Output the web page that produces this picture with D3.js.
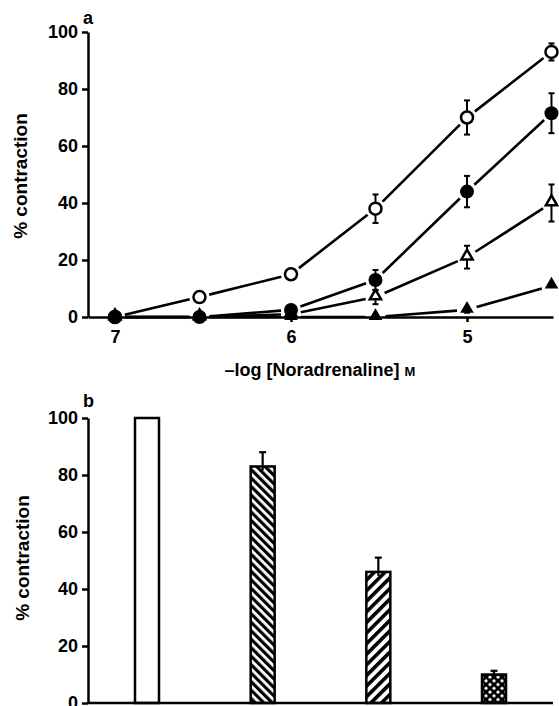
<!DOCTYPE html>
<html>
<head>
<meta charset="utf-8">
<script src="https://cdn.jsdelivr.net/npm/d3@7"></script>
<style>
  body { margin: 0; background: #fff; }
  svg { display: block; font-family: "Liberation Sans", Arial, sans-serif; font-weight: bold; }
</style>
</head>
<body>
<svg id="chart" width="559" height="706"></svg>
<script>
// panel a: concentration-response curves
const logConc = [7, 6.52, 6, 5.52, 5, 4.52];
const openCircle = [0, 7, 15, 38, 70, 93];
const openCircleErr = [0, 0, 0, 5, 6, 3];
const filledCircle = [0, 0, 2.5, 13, 44, 71.5];
const filledCircleErr = [0, 0, 0, 3.5, 5.5, 7];
const openTriangle = [0, 0, 1, 7, 21, 40];
const openTriangleErr = [0, 0, 0, 2.5, 4, 6.5];
const filledTriangle = [0, 0, 0, 0, 2.5, 11];
const filledTriangleErr = [0, 0, 0, 0, 1, 0];
const xTicks = [7, 6, 5];
const yTicks = [0, 20, 40, 60, 80, 100];

// panel b: bars
const barGroups = ["control", "hatchA", "hatchB", "dotted"];
const barValues = [100, 83, 46, 10];
const barErr = [0, 5, 5, 1.3];

const svg = d3.select("#chart");

// fill patterns for the bars
const defs = svg.append("defs");
const pa = defs.append("pattern").attr("id", "hatchA").attr("patternUnits", "userSpaceOnUse")
  .attr("width", 6).attr("height", 6).attr("patternTransform", "rotate(-45)");
pa.append("rect").attr("width", 6).attr("height", 6).attr("fill", "#fff");
pa.append("rect").attr("width", 3.2).attr("height", 6).attr("fill", "#000");
const pb = defs.append("pattern").attr("id", "hatchB").attr("patternUnits", "userSpaceOnUse")
  .attr("width", 7.5).attr("height", 7.5).attr("patternTransform", "rotate(45)");
pb.append("rect").attr("width", 7.5).attr("height", 7.5).attr("fill", "#fff");
pb.append("rect").attr("width", 3.6).attr("height", 7.5).attr("fill", "#000");
const pd = defs.append("pattern").attr("id", "dotted").attr("patternUnits", "userSpaceOnUse")
  .attr("width", 8).attr("height", 7.5);
pd.append("rect").attr("width", 8).attr("height", 7.5).attr("fill", "#000");
pd.append("circle").attr("cx", 2).attr("cy", 2).attr("r", 1.6).attr("fill", "#fff");
pd.append("circle").attr("cx", 6).attr("cy", 5.75).attr("r", 1.6).attr("fill", "#fff");

function styleAxis(g) {
  g.attr("font-family", null).attr("font-size", null);
  g.select(".domain").attr("stroke", "#000").attr("stroke-width", 2.5);
  g.selectAll(".tick line").attr("stroke", "#000").attr("stroke-width", 2.5);
  g.selectAll(".tick text").attr("fill", "#000").style("font-size", "18px");
}

// ---------- panel a ----------
const x = d3.scaleLinear().domain([7, 5]).range([115, 467]);
const y = d3.scaleLinear().domain([0, 100]).range([317, 32]);
const xAxisScale = x.copy().domain([x.invert(88), x.invert(553)]).range([88, 553]);

const gA = svg.append("g");

gA.append("g").attr("transform", "translate(88,0)")
  .call(d3.axisLeft(y).tickValues(yTicks).tickSize(6).tickSizeOuter(0).tickPadding(4))
  .call(styleAxis);
gA.append("g").attr("transform", "translate(0,317)")
  .call(d3.axisBottom(xAxisScale).tickValues(xTicks).tickFormat(d3.format("d"))
    .tickSize(5).tickSizeOuter(0).tickPadding(8))
  .call(styleAxis);

const series = [
  { vals: openTriangle, err: openTriangleErr, shape: "tri", fill: "#fff" },
  { vals: filledTriangle, err: filledTriangleErr, shape: "tri", fill: "#000" },
  { vals: openCircle, err: openCircleErr, shape: "circ", fill: "#fff" },
  { vals: filledCircle, err: filledCircleErr, shape: "circ", fill: "#000" }
];

const gap = 10;
series.forEach(s => {
  const pts = logConc.map((c, i) => [x(c), y(s.vals[i])]);
  // connecting segments stop short of the markers
  for (let i = 0; i < pts.length - 1; i++) {
    const [x1, y1] = pts[i], [x2, y2] = pts[i + 1];
    const len = Math.hypot(x2 - x1, y2 - y1);
    if (len <= 2 * gap) continue;
    const ux = (x2 - x1) / len, uy = (y2 - y1) / len;
    gA.append("line")
      .attr("x1", x1 + ux * gap).attr("y1", y1 + uy * gap)
      .attr("x2", x2 - ux * gap).attr("y2", y2 - uy * gap)
      .attr("stroke", "#000").attr("stroke-width", 2.6);
  }
  // error bars
  logConc.forEach((c, i) => {
    if (!s.err[i]) return;
    const cx = x(c), top = y(s.vals[i] + s.err[i]), bot = y(s.vals[i] - s.err[i]);
    gA.append("line").attr("x1", cx).attr("x2", cx).attr("y1", top).attr("y2", bot)
      .attr("stroke", "#000").attr("stroke-width", 2);
    [top, bot].forEach(yy => gA.append("line").attr("x1", cx - 3).attr("x2", cx + 3)
      .attr("y1", yy).attr("y2", yy).attr("stroke", "#000").attr("stroke-width", 2));
  });
});

series.forEach(s => {
  logConc.forEach((c, i) => {
    const cx = x(c), cy = y(s.vals[i]);
    if (s.shape === "circ") {
      gA.append("circle").attr("cx", cx).attr("cy", cy)
        .attr("r", s.fill === "#000" ? 7 : 6)
        .attr("fill", s.fill).attr("stroke", "#000").attr("stroke-width", s.fill === "#000" ? 0 : 2.5);
    } else {
      gA.append("path").attr("transform", `translate(${cx},${cy - 1})`)
        .attr("d", d3.symbol(d3.symbolTriangle, s.fill === "#000" ? 80 : 55)())
        .attr("fill", s.fill).attr("stroke", "#000").attr("stroke-width", s.fill === "#000" ? 0 : 2.5);
    }
  });
});

gA.append("text").attr("x", 83).attr("y", 24).style("font-size", "18px").text("a");
gA.append("text").attr("transform", "translate(27,176) rotate(-90)")
  .attr("text-anchor", "middle").style("font-size", "19px").text("% contraction");
const xl = gA.append("text").attr("x", 320).attr("y", 376).attr("text-anchor", "middle")
  .style("font-size", "18px");
xl.append("tspan").text("\u2013log [Noradrenaline] ");
xl.append("tspan").style("font-size", "13px").text("M");

// ---------- panel b ----------
const xb = d3.scalePoint().domain(barGroups).range([88, 553]).padding(0.51);
const yb = d3.scaleLinear().domain([0, 100]).range([703, 418]);
const barW = 24;

const gB = svg.append("g");
gB.append("g").attr("transform", "translate(88,0)")
  .call(d3.axisLeft(yb).tickValues(yTicks).tickSize(6).tickSizeOuter(0).tickPadding(4))
  .call(styleAxis);

gB.selectAll(".bar").data(barGroups).enter().append("rect")
  .attr("class", "bar")
  .attr("x", d => xb(d) - barW / 2)
  .attr("y", (d, i) => yb(barValues[i]))
  .attr("width", barW)
  .attr("height", (d, i) => yb(0) - yb(barValues[i]))
  .attr("fill", (d, i) => i === 0 ? "#fff" : `url(#${d})`)
  .attr("stroke", "#000").attr("stroke-width", 2.5);

barGroups.forEach((d, i) => {
  if (!barErr[i]) return;
  const cx = xb(d), top = yb(barValues[i] + barErr[i]);
  gB.append("line").attr("x1", cx).attr("x2", cx).attr("y1", top).attr("y2", yb(barValues[i]) + 4)
    .attr("stroke", "#000").attr("stroke-width", 2.2);
  gB.append("line").attr("x1", cx - 3.5).attr("x2", cx + 3.5).attr("y1", top).attr("y2", top)
    .attr("stroke", "#000").attr("stroke-width", 2.2);
});

gB.append("line").attr("x1", 88).attr("x2", 553).attr("y1", yb(0)).attr("y2", yb(0))
  .attr("stroke", "#000").attr("stroke-width", 2.5);

gB.append("text").attr("x", 83).attr("y", 407).style("font-size", "18px").text("b");
gB.append("text").attr("transform", "translate(29,558) rotate(-90)")
  .attr("text-anchor", "middle").style("font-size", "19px").text("% contraction");
</script>
</body>
</html>
